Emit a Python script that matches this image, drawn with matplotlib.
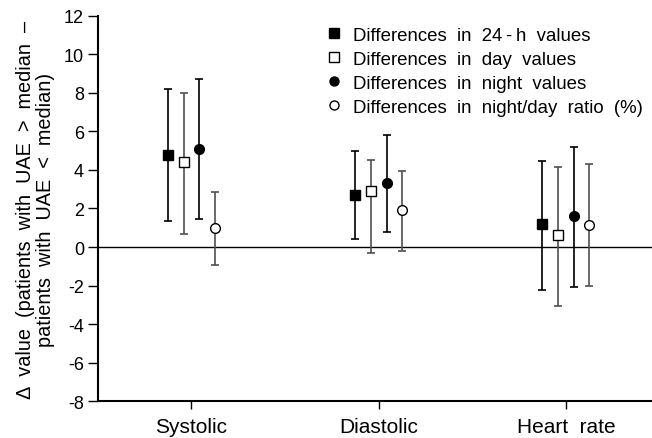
import numpy as np
import matplotlib.pyplot as plt
from matplotlib.lines import Line2D

plt.rcParams['font.family'] = ['Liberation Sans', 'DejaVu Sans']

categories = ['Systolic', 'Diastolic', 'Heart  rate']
series_labels = ['Differences  in  24\u2009-\u2009h  values', 'Differences  in  day  values',
                 'Differences  in  night  values', 'Differences  in  night/day  ratio  (%)']

# mean differences and 95% CI per series, ordered by category
mean_24h = [4.8, 2.7, 1.2]
low_24h = [1.35, 0.42, -2.24]
high_24h = [8.2, 5.0, 4.45]

mean_day = [4.4, 2.9, 0.6]
low_day = [0.68, -0.29, -3.05]
high_day = [8.0, 4.54, 4.14]

mean_night = [5.1, 3.3, 1.6]
low_night = [1.48, 0.79, -2.06]
high_night = [8.73, 5.83, 5.2]

mean_ratio = [1.0, 1.9, 1.13]
low_ratio = [-0.91, -0.22, -2.03]
high_ratio = [2.88, 3.93, 4.3]

yticks = [-8, -6, -4, -2, 0, 2, 4, 6, 8, 10, 12]

fig = plt.figure(figsize=(6.52, 4.39), dpi=100)
ax = fig.add_axes([0.150, 0.0836, 0.85, 0.8784])

x = np.arange(1, len(categories) + 1)
offsets = [-0.125, -0.042, 0.042, 0.125]
series = [
    (mean_24h, low_24h, high_24h, 's', 'black', 'black'),
    (mean_day, low_day, high_day, 's', 'white', '#505050'),
    (mean_night, low_night, high_night, 'o', 'black', 'black'),
    (mean_ratio, low_ratio, high_ratio, 'o', 'white', '#505050'),
]

ax.axhline(0, color='black', lw=1.0, zorder=1)

handles = []
for (m, lo, hi, mk, fc, ec), off, lab in zip(series, offsets, series_labels):
    m = np.array(m)
    yerr = [m - np.array(lo), np.array(hi) - m]
    ax.errorbar(x + off, m, yerr=yerr, fmt='none', ecolor=ec, elinewidth=1.2,
                capsize=3, capthick=1.2, zorder=2)
    ax.plot(x + off, m, linestyle='none', marker=mk, markersize=7,
            markerfacecolor=fc, markeredgecolor='black', markeredgewidth=1.0, zorder=3)
    handles.append(Line2D([], [], linestyle='none', marker=mk, markersize=6.5,
                          markerfacecolor=fc, markeredgecolor='black',
                          markeredgewidth=1.0, label=lab))

ax.set_xlim(0.5, 3.46)
ax.set_ylim(-8, 12)
ax.set_yticks(yticks)
ax.set_yticklabels([str(t) for t in yticks])
ax.set_xticks(x)
ax.set_xticklabels(categories)
ax.tick_params(axis='y', labelsize=13, direction='out', length=7, width=1.0, pad=3)
ax.tick_params(axis='x', labelsize=15, direction='out', length=6, width=1.0, pad=5)

for s in ['top', 'right']:
    ax.spines[s].set_visible(False)
for s in ['left', 'bottom']:
    ax.spines[s].set_linewidth(1.5)

ax.set_ylabel('\u0394  value  (patients  with  UAE  >  median  \u2013\npatients  with  UAE  <  median)',
              fontsize=14.3, linespacing=1.05)
ax.yaxis.set_label_coords(-0.078, 0.5)

ax.legend(handles=handles, loc='upper left', bbox_to_anchor=(0.413, 0.972),
          frameon=False, fontsize=13.4, handlelength=0.8, handletextpad=0.6,
          labelspacing=0.38, borderpad=0, borderaxespad=0)

fig.savefig('out.png', dpi=100)
